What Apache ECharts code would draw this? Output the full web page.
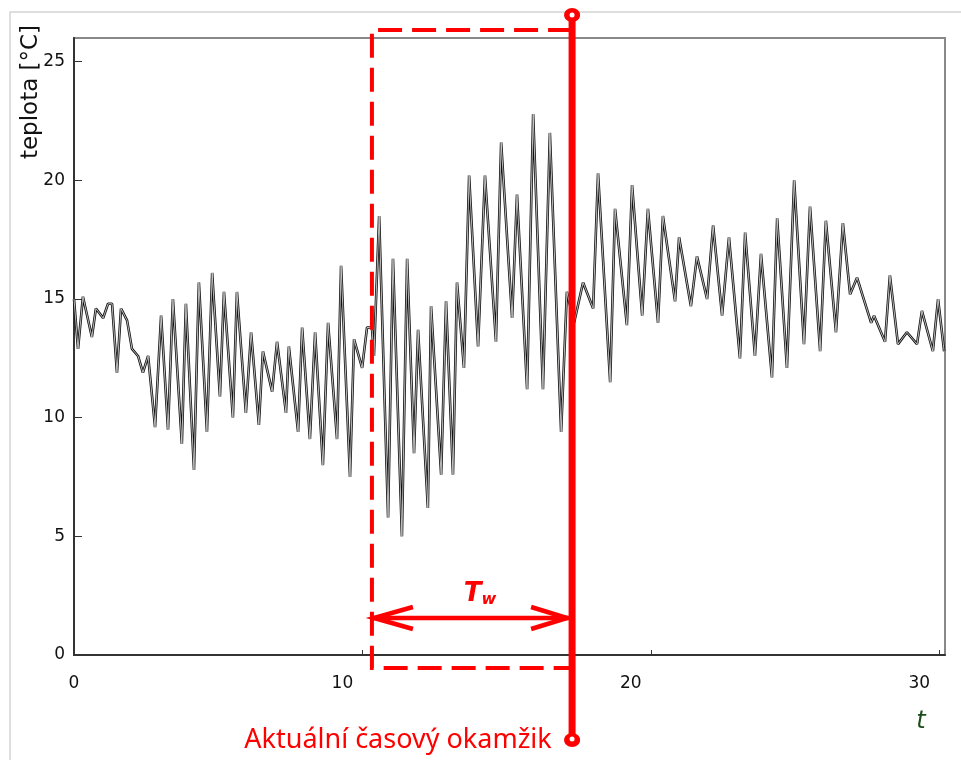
<!DOCTYPE html>
<html>
<head>
<meta charset="utf-8">
<script src="https://cdn.jsdelivr.net/npm/echarts@6/dist/echarts.min.js"></script>
<style>
    html, body {margin: 0; padding: 0; background: #fff;}
    #chart {width: 961px; height: 760px;}
</style>
</head>
<body>
<div id="chart"></div>
<script>
// time in days, temperature in °C
const times = [0.00, 0.14, 0.31, 0.62, 0.76, 1.01, 1.18, 1.32, 1.49, 1.63, 1.84, 2.01, 2.22, 2.39, 2.57,
    2.81, 3.02, 3.26, 3.43, 3.74, 3.88, 4.16, 4.33, 4.61, 4.79, 5.06, 5.20, 5.51, 5.65, 5.96,
    6.14, 6.41, 6.55, 6.87, 7.04, 7.35, 7.45, 7.77, 7.91, 8.18, 8.36, 8.63, 8.81, 9.12, 9.26,
    9.57, 9.71, 9.99, 10.16, 10.33, 10.40, 10.58, 10.89, 11.06, 11.37, 11.55, 11.79, 11.93, 12.27, 12.38,
    12.73, 12.90, 13.14, 13.28, 13.52, 13.70, 14.01, 14.25, 14.63, 14.81, 15.19, 15.36, 15.71, 15.92, 16.26,
    16.50, 16.89, 17.09, 17.34, 17.65, 18.00, 18.17, 18.59, 18.76, 19.17, 19.35, 19.70, 19.90, 20.25, 20.42,
    20.84, 20.98, 21.39, 21.60, 21.95, 22.16, 22.47, 22.71, 23.09, 23.27, 23.61, 23.82, 24.20, 24.38, 24.72,
    24.97, 25.31, 25.52, 25.87, 26.07, 26.42, 26.66, 26.91, 27.15, 27.64, 27.74, 28.12, 28.29, 28.57, 28.88,
    29.23, 29.40, 29.78, 29.96, 30.17];
const temps = [15.0, 12.9, 15.1, 13.4, 14.6, 14.2, 14.8, 14.8, 11.9, 14.6, 14.1, 12.9, 12.6, 11.9, 12.6,
    9.6, 14.3, 9.5, 15.0, 8.9, 14.8, 7.8, 15.7, 9.4, 16.1, 10.9, 15.3, 10.0, 15.3, 10.2,
    13.6, 9.7, 12.8, 11.1, 13.2, 10.2, 13.0, 9.4, 13.8, 9.1, 13.6, 8.0, 14.0, 9.1, 16.4,
    7.5, 13.3, 12.1, 13.8, 13.8, 12.6, 18.5, 5.8, 16.7, 5.0, 16.7, 8.5, 13.7, 6.2, 14.7,
    7.6, 14.9, 7.6, 15.7, 12.1, 20.2, 13.0, 20.2, 13.2, 21.6, 14.2, 19.4, 11.2, 22.8, 11.2,
    22.0, 9.4, 15.3, 14.0, 15.7, 14.6, 20.3, 11.5, 18.8, 13.9, 19.8, 14.3, 18.8, 14.0, 18.5,
    14.9, 17.6, 14.7, 16.8, 15.0, 18.1, 14.3, 17.6, 12.5, 17.8, 12.6, 16.9, 11.7, 18.4, 12.1,
    20.0, 13.1, 18.9, 12.8, 18.3, 13.6, 18.2, 15.2, 15.9, 14.0, 14.3, 13.2, 16.0, 13.1, 13.6,
    13.1, 14.5, 12.8, 15.0, 12.8];

// window annotation (days / °C)
const windowStart = 10.33;
const currentTime = 17.27;
const arrowLevel = 1.56;

const points = times.map((t, i) => [t, temps[i]]);
const red = '#ff0000';

function drawWindow(params, api) {
    const tl = api.coord([windowStart, 26.34]);
    const bl = api.coord([windowStart, -0.55]);
    const tr = api.coord([currentTime, 26.34]);
    const br = api.coord([currentTime, -0.55]);
    const top = api.coord([currentTime, 26.97]);
    const bottom = api.coord([currentTime, -3.58]);
    const a1 = api.coord([windowStart, arrowLevel]);
    const a2 = api.coord([currentTime, arrowLevel]);
    const head = 41, spread = 11;
    return {
        type: 'group',
        children: [
            {
                type: 'polyline',
                shape: {points: [tr, tl, bl, br]},
                style: {stroke: red, lineWidth: 4, lineDash: [24, 10], fill: null}
            },
            {
                type: 'line',
                shape: {x1: top[0], y1: top[1], x2: bottom[0], y2: bottom[1]},
                style: {stroke: red, lineWidth: 7}
            },
            {
                type: 'line',
                shape: {x1: a1[0], y1: a1[1], x2: a2[0] - 3, y2: a2[1]},
                style: {stroke: red, lineWidth: 4.5}
            },
            {
                type: 'polyline',
                shape: {points: [[a1[0] + head, a1[1] - spread], [a1[0] + 2, a1[1]], [a1[0] + head, a1[1] + spread]]},
                style: {stroke: red, lineWidth: 4.5, fill: null}
            },
            {
                type: 'polyline',
                shape: {points: [[a2[0] - head, a2[1] - spread], [a2[0] - 5, a2[1]], [a2[0] - head, a2[1] + spread]]},
                style: {stroke: red, lineWidth: 4.5, fill: null}
            },
            {
                type: 'ellipse',
                shape: {cx: top[0], cy: top[1], rx: 8, ry: 7},
                style: {fill: red}
            },
            {
                type: 'circle',
                shape: {cx: top[0], cy: top[1], r: 2.5},
                style: {fill: '#fff'}
            },
            {
                type: 'ellipse',
                shape: {cx: bottom[0], cy: bottom[1], rx: 8, ry: 7},
                style: {fill: red}
            },
            {
                type: 'circle',
                shape: {cx: bottom[0], cy: bottom[1] - 1, r: 2.5},
                style: {fill: '#fff'}
            },
            {
                type: 'text',
                x: (a1[0] + a2[0]) / 2 + 8,
                y: a1[1] - 24,
                style: {
                    text: '{t|T}{w|w}',
                    align: 'center',
                    verticalAlign: 'middle',
                    rich: {
                        t: {fontSize: 26, fontStyle: 'italic', fontWeight: 'bold', fill: red, fontFamily: 'DejaVu Sans'},
                        w: {fontSize: 16, fontStyle: 'italic', fontWeight: 'bold', fill: red, fontFamily: 'DejaVu Sans', padding: [12, 0, 0, 0]}
                    }
                }
            }
        ]
    };
}

const chart = echarts.init(document.getElementById('chart'));
chart.setOption({
    animation: false,
    backgroundColor: '#fff',
    grid: {
        left: 74, right: 16, top: 38, bottom: 105,
        show: true, borderColor: '#888', borderWidth: 2
    },
    xAxis: {
        type: 'value',
        min: 0,
        max: 30.2,
        interval: 10,
        splitLine: {show: false},
        axisLine: {lineStyle: {color: '#333', width: 2}},
        axisTick: {inside: true, length: 5, lineStyle: {color: '#333'}},
        axisLabel: {
            margin: 20,
            showMaxLabel: false,
            formatter: function (v) {
                return v === 0 ? '{z|0}' : '{s|' + v + '}';
            },
            rich: {
                z: {fontSize: 17, color: '#111', fontFamily: 'DejaVu Sans'},
                s: {fontSize: 17, color: '#111', fontFamily: 'DejaVu Sans', padding: [0, 40, 0, 0]}
            }
        }
    },
    yAxis: {
        type: 'value',
        min: 0,
        max: 26,
        interval: 5,
        splitLine: {show: false},
        axisLine: {show: true, lineStyle: {color: '#333', width: 2}},
        axisTick: {show: true, inside: true, length: 8, lineStyle: {color: '#333'}},
        axisLabel: {
            margin: 9,
            showMaxLabel: false,
            fontSize: 17,
            color: '#111',
            fontFamily: 'DejaVu Sans'
        }
    },
    graphic: [
        {
            type: 'rect',
            shape: {x: 10, y: 12, width: 1000, height: 800},
            style: {fill: null, stroke: '#d4d4d4', lineWidth: 1.5},
            silent: true
        },
        {
            type: 'text',
            x: 31, y: 92,
            rotation: Math.PI / 2,
            style: {
                text: 'teplota [°C]',
                fontSize: 23,
                fontFamily: 'DejaVu Sans',
                fill: '#111',
                align: 'center',
                verticalAlign: 'middle'
            }
        },
        {
            type: 'text',
            x: 921, y: 722,
            style: {
                text: 't',
                fontSize: 24,
                fontStyle: 'italic',
                fontFamily: 'DejaVu Sans',
                fill: '#1a4d1a',
                align: 'center',
                verticalAlign: 'middle'
            }
        },
        {
            type: 'text',
            x: 398, y: 740,
            style: {
                text: 'Aktuální časový okamžik',
                fontSize: 27,
                fontFamily: 'Noto Sans',
                fill: red,
                align: 'center',
                verticalAlign: 'middle'
            }
        }
    ],
    series: [
        {
            type: 'line',
            data: points,
            showSymbol: false,
            lineStyle: {color: '#111', width: 2.6},
            z: 2
        },
        {
            type: 'line',
            data: points,
            showSymbol: false,
            lineStyle: {color: '#e4e4e4', width: 0.8},
            z: 3
        },
        {
            type: 'custom',
            data: [[currentTime, arrowLevel]],
            renderItem: drawWindow,
            clip: false,
            silent: true,
            z: 10
        }
    ]
});
</script>
</body>
</html>
